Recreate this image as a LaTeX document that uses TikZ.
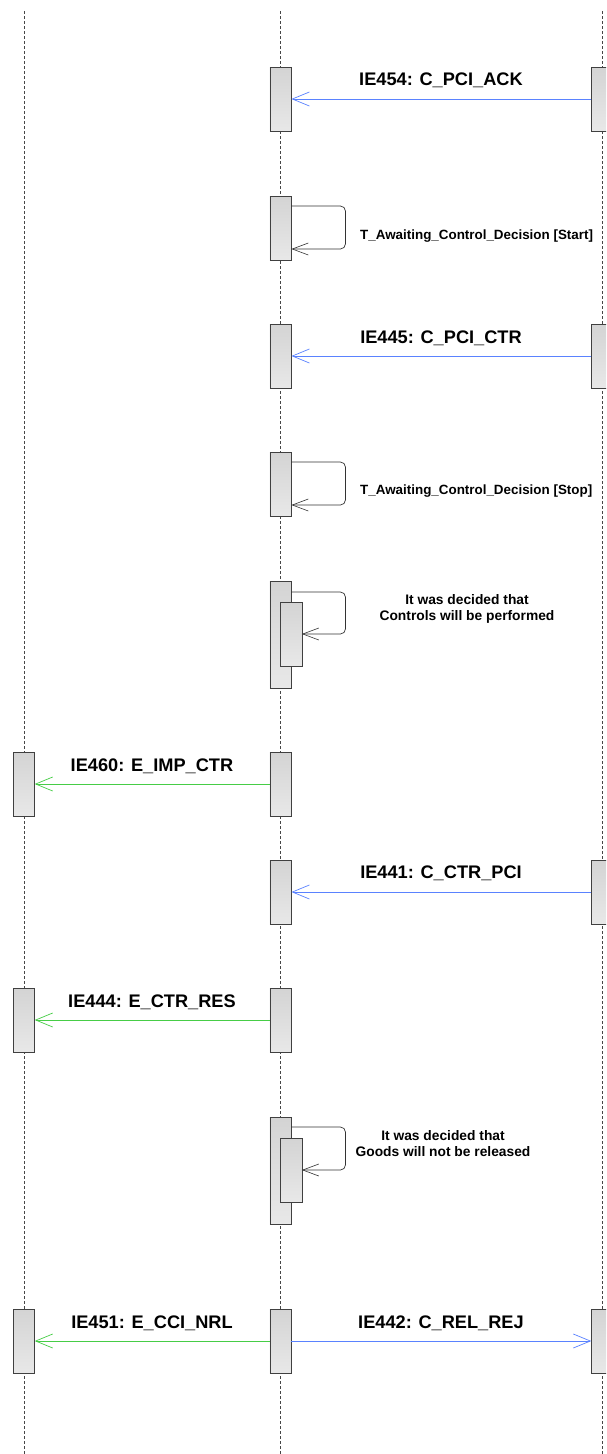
\documentclass[tikz,border=0pt]{standalone}
\usepackage{fontspec}
\setmainfont{Liberation Sans}
\usetikzlibrary{arrows.meta}
\definecolor{msgblue}{RGB}{90,130,255}
\definecolor{msggreen}{RGB}{70,205,70}
\definecolor{boxborder}{RGB}{64,64,64}
\definecolor{lifegray}{RGB}{70,70,70}
\begin{document}
\begin{tikzpicture}[x=1pt,y=-1pt,
  life/.style={draw=lifegray, line width=0.8pt, dash pattern=on 3pt off 2pt},
  act/.style={draw=boxborder, line width=0.9pt, top color=black!17, bottom color=black!9,
    minimum width=21.5pt, minimum height=64pt, inner sep=0pt, outer sep=0pt, anchor=north},
  actlong/.style={act, minimum height=107pt},
  bluemsg/.style={draw=msgblue, line width=0.8pt, -{Straight Barb[length=17pt,width=14pt,line width=0.7pt]}},
  greenmsg/.style={draw=msggreen, line width=0.8pt, -{Straight Barb[length=17pt,width=14pt,line width=0.7pt]}},
  selfmsg/.style={draw=black!80, line width=0.7pt, rounded corners=5pt, -{Straight Barb[length=16pt,width=12pt,line width=0.6pt]}},
  lab/.style={font=\fontsize{18.2}{20}\selectfont\bfseries, inner sep=0pt},
  slab/.style={font=\fontsize{13.4}{15}\selectfont\bfseries, inner sep=0pt, anchor=west},
  nlab/.style={font=\fontsize{13.8}{16}\selectfont\bfseries, inner sep=0pt, align=center}
]
\clip (0,0) rectangle (606,1454);
\useasboundingbox (0,0) rectangle (606,1454);
\fill[white] (0,0) rectangle (606,1454);

% lifelines
\coordinate (LAt) at (24,11);   \coordinate (LAb) at (24,1454);
\coordinate (LBt) at (280.7,11); \coordinate (LBb) at (280.7,1454);
\coordinate (LCt) at (602,11);  \coordinate (LCb) at (602,1454);
\draw[life] (LAt) -- (LAb);
\draw[life] (LBt) -- (LBb);
\draw[life] (LCt) -- (LCb);

% row 1
\node[act] (m1) at (280.7,67) {};
\node[act] (r1) at (602,67) {};
\draw[bluemsg] (r1.west) -- (m1.east);
\node[lab] (l1) at (441,80) {IE454: C\_PCI\_ACK};

% row 2
\node[act] (m2) at (280.7,196) {};
\draw[selfmsg] ([yshift=-10pt]m2.north east) -- ++(54,0) -- ++(0,43) -- ([yshift=-53pt]m2.north east);
\node[slab] (l2) at (360,236) {T\_Awaiting\_Control\_Decision [Start]};

% row 3
\node[act] (m3) at (280.7,324) {};
\node[act] (r3) at (602,324) {};
\draw[bluemsg] (r3.west) -- (m3.east);
\node[lab] (l3) at (441,338) {IE445: C\_PCI\_CTR};

% row 4
\node[act] (m4) at (280.7,452) {};
\draw[selfmsg] ([yshift=-10pt]m4.north east) -- ++(54,0) -- ++(0,43) -- ([yshift=-53pt]m4.north east);
\node[slab] (l4) at (360,491) {T\_Awaiting\_Control\_Decision [Stop]};

% row 5
\node[actlong] (m5) at (280.7,581) {};
\node[act] (m5i) at (291.2,602) {};
\draw[selfmsg] ([yshift=-11pt]m5.north east) -- ++(54,0) -- ++(0,42) -- (m5i.east);
\node[nlab] (l5) at (467,609) {It was decided that\\Controls will be performed};

% row 6
\node[act] (a6) at (24,752) {};
\node[act] (m6) at (280.7,752) {};
\draw[greenmsg] (m6.west) -- (a6.east);
\node[lab] (l6) at (152,766) {IE460: E\_IMP\_CTR};

% row 7
\node[act] (m7) at (280.7,860) {};
\node[act] (r7) at (602,860) {};
\draw[bluemsg] (r7.west) -- (m7.east);
\node[lab] (l7) at (441,873) {IE441: C\_CTR\_PCI};

% row 8
\node[act] (a8) at (24,988) {};
\node[act] (m8) at (280.7,988) {};
\draw[greenmsg] (m8.west) -- (a8.east);
\node[lab] (l8) at (152,1002) {IE444: E\_CTR\_RES};

% row 9
\node[actlong] (m9) at (280.7,1117) {};
\node[act] (m9i) at (291.2,1138) {};
\draw[selfmsg] ([yshift=-10pt]m9.north east) -- ++(54,0) -- ++(0,43) -- (m9i.east);
\node[nlab] (l9) at (443,1144) {It was decided that\\Goods will not be released};

% row 10
\node[act] (a10) at (24,1309) {};
\node[act] (m10) at (280.7,1309) {};
\node[act] (r10) at (602,1309) {};
\draw[greenmsg] (m10.west) -- (a10.east);
\draw[bluemsg] (m10.east) -- (r10.west);
\node[lab] (l10a) at (152,1323) {IE451: E\_CCI\_NRL};
\node[lab] (l10b) at (441,1323) {IE442: C\_REL\_REJ};
\end{tikzpicture}
\end{document}
